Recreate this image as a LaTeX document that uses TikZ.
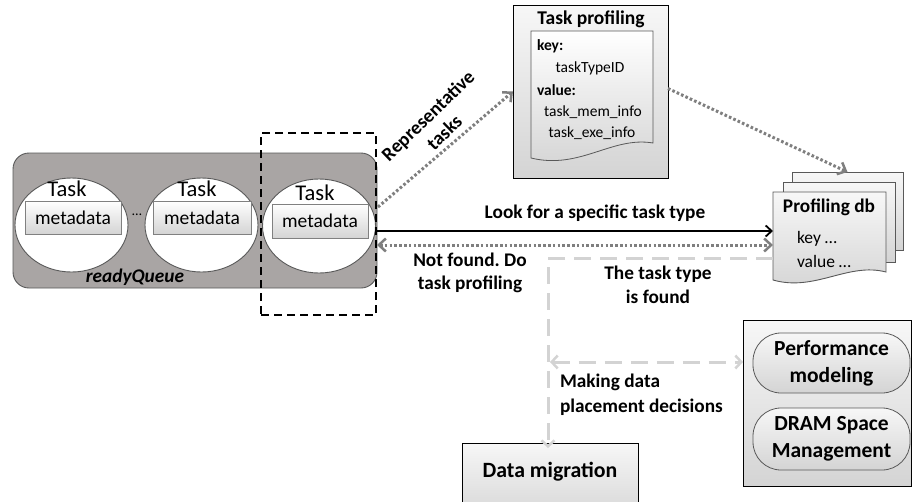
\documentclass[tikz,border=0pt]{standalone}
\usepackage{fontspec}
\setmainfont{Carlito}
\usetikzlibrary{arrows.meta,shapes.geometric}
\definecolor{qgray}{HTML}{A9A5A4}
\definecolor{qline}{HTML}{595959}
\definecolor{dotgray}{HTML}{7F7F7F}
\definecolor{lgray}{HTML}{D3D3D3}
\definecolor{boxbot}{HTML}{D4D4D4}
\definecolor{boxtop}{HTML}{F7F7F7}
\begin{document}
\begin{tikzpicture}[x=1pt,y=-1pt,
  every node/.style={inner sep=0pt,outer sep=0pt},
  queue/.style={draw=qline,line width=0.9pt,fill=qgray,rounded corners=16pt,minimum width=364pt,minimum height=135pt},
  taskell/.style={ellipse,draw=qline,line width=0.9pt,fill=white,minimum width=113pt,minimum height=94pt},
  tasktxt/.style={font=\fontsize{22.5}{26}\selectfont},
  meta/.style={draw=gray,line width=0.7pt,top color=white,bottom color=boxbot,minimum width=96pt,minimum height=33pt,font=\fontsize{19.5}{22}\selectfont},
  selbox/.style={draw=black,line width=2.4pt,dash pattern=on 8pt off 5pt,minimum width=115pt,minimum height=182pt},
  gbox/.style={draw=black,line width=0.9pt,top color=boxtop,bottom color=boxbot},
  pill/.style={draw=qline,line width=0.8pt,rounded corners=28pt,top color=boxtop,bottom color=boxbot,minimum width=157pt,align=center,font=\bfseries\fontsize{21.5}{27}\selectfont},
  lbl/.style={font=\bfseries\fontsize{19.3}{23.5}\selectfont,align=center},
  gdot/.style={draw=dotgray,line width=3pt,dash pattern=on 2.6pt off 2.2pt,-{Straight Barb[length=7pt,width=13pt,line width=2.5pt]}},
  gdotb/.style={draw=dotgray,line width=3pt,dash pattern=on 2.6pt off 2.2pt,{Straight Barb[length=7pt,width=13pt,line width=2.5pt]}-{Straight Barb[length=7pt,width=13pt,line width=2.5pt]}},
  ldash/.style={draw=lgray,line width=3pt,dash pattern=on 17pt off 9pt},
  blk/.style={draw=black,line width=1.8pt,-{Straight Barb[length=6pt,width=11pt,line width=1.8pt]}}
]
\useasboundingbox (0,0) rectangle (912,501);
\clip (0,0) rectangle (912,501);

% ready queue
\node[queue] (rq) at (195,220.5) {};
\node[taskell] (c1) at (71.5,225) {};
\node[taskell] (c2) at (201.5,225) {};
\node[taskell] (c3) at (319,226) {};
\node[tasktxt] (t1) at (67,189) {Task};
\node[tasktxt] (t2) at (197,189) {Task};
\node[tasktxt] (t3) at (315,193) {Task};
\node[meta] (m1) at (73,217.5) {metadata};
\node[meta,minimum width=98pt] (m2) at (202,217.5) {metadata};
\node[meta,minimum height=34pt] (m3) at (320,221) {metadata};
\node[font=\fontsize{14}{16}\selectfont] (dots) at (137,215) {\ldots};
\node[font=\bfseries\itshape\fontsize{19.3}{22}\selectfont] (rql) at (135,277) {readyQueue};
\node[selbox] (sel) at (318.5,224) {};

% task profiling
\node[gbox,minimum width=155pt,minimum height=173pt] (tp) at (590.5,91.5) {};
\node[font=\bfseries\fontsize{19.5}{22}\selectfont] (tpt) at (591,19) {Task profiling};
\shade[top color=white,bottom color=boxbot] (531,31) -- (653,31) -- (653,143) .. controls (612,136) and (580,170) .. (531,158) -- cycle;
\draw[qline,line width=0.8pt] (531,31) -- (653,31) -- (653,143) .. controls (612,136) and (580,170) .. (531,158) -- cycle;
\node[font=\bfseries\fontsize{15.5}{19}\selectfont,anchor=west] (k1) at (537,46) {key:};
\node[font=\fontsize{15.5}{19}\selectfont] (k2) at (590,68) {taskTypeID};
\node[font=\bfseries\fontsize{15.5}{19}\selectfont,anchor=west] (v1) at (537,90) {value:};
\node[font=\fontsize{15.5}{19}\selectfont] (v2) at (593,112) {task\_mem\_info};
\node[font=\fontsize{15.5}{19}\selectfont] (v3) at (592,133) {task\_exe\_info};

% profiling db
\node[gbox,draw=qline,minimum width=111pt,minimum height=78pt] (dbb) at (847.5,211) {};
\node[gbox,draw=qline,minimum width=112pt,minimum height=80pt] (dbm) at (839,222) {};
\shade[top color=boxtop,bottom color=boxbot] (773,192) -- (886,192) -- (886,272) .. controls (848,262) and (815,292) .. (773,280) -- cycle;
\draw[qline,line width=0.9pt] (773,192) -- (886,192) -- (886,272) .. controls (848,262) and (815,292) .. (773,280) -- cycle;
\coordinate (db) at (773,237);
\node[font=\bfseries\fontsize{19.3}{22}\selectfont] (dbt) at (829,207) {Profiling db};
\node[font=\fontsize{17.5}{20}\selectfont,anchor=west] (dk) at (797,239) {key \ldots};
\node[font=\fontsize{17.5}{20}\selectfont,anchor=west] (dv) at (797,261) {value \ldots};

% data migration
\node[gbox,minimum width=176pt,minimum height=80pt] (dm) at (550,483) {};
\node[font=\bfseries\fontsize{21.8}{26}\selectfont] (dmt) at (550,472) {Data migration};

% right box
\node[gbox,minimum width=168pt,minimum height=166pt] (rb) at (827,403) {};
\node[pill,minimum height=60pt] (pm) at (831.5,363) {Performance\\modeling};
\node[pill,minimum height=62pt] (ds) at (831.5,439) {DRAM Space\\Management};

% connectors
\coordinate (r1) at (378,207);
\draw[gdot] (r1) -- (tp.west);
\node[lbl,rotate=44] (repl) at (436,124) {Representative\\tasks};
\draw[gdot] ([yshift=3pt]tp.east) -- (dbb.north);

\coordinate (l1) at (377,231);
\draw[blk] (l1) -- (l1 -| db);
\node[lbl] (lookl) at (595,213) {Look for a specific task type};
\coordinate (n1) at (377,245);
\draw[gdotb] (n1) -- (n1 -| db);
\node[lbl] (nfl) at (470,273) {Not found.\ Do\\task profiling};

\coordinate (f1) at (773,258);
\draw[ldash,-{Straight Barb[length=6pt,width=13pt,line width=2.5pt]}] (f1) -| ([yshift=-5pt]dm.north -| 548,0);
\node[lbl,font=\bfseries\fontsize{19.3}{24}\selectfont] (tfl) at (658,285) {The task type\\is found};

\coordinate (h1) at (550,362);
\draw[ldash,{Straight Barb[length=6pt,width=13pt,line width=2.5pt]}-{Straight Barb[length=6pt,width=13pt,line width=2.5pt]}] (h1) -- (h1 -| rb.west);
\node[lbl,align=left,anchor=west,font=\bfseries\fontsize{19.3}{25}\selectfont] (mkl) at (560,394.5) {Making data\\placement decisions};
\end{tikzpicture}
\end{document}
